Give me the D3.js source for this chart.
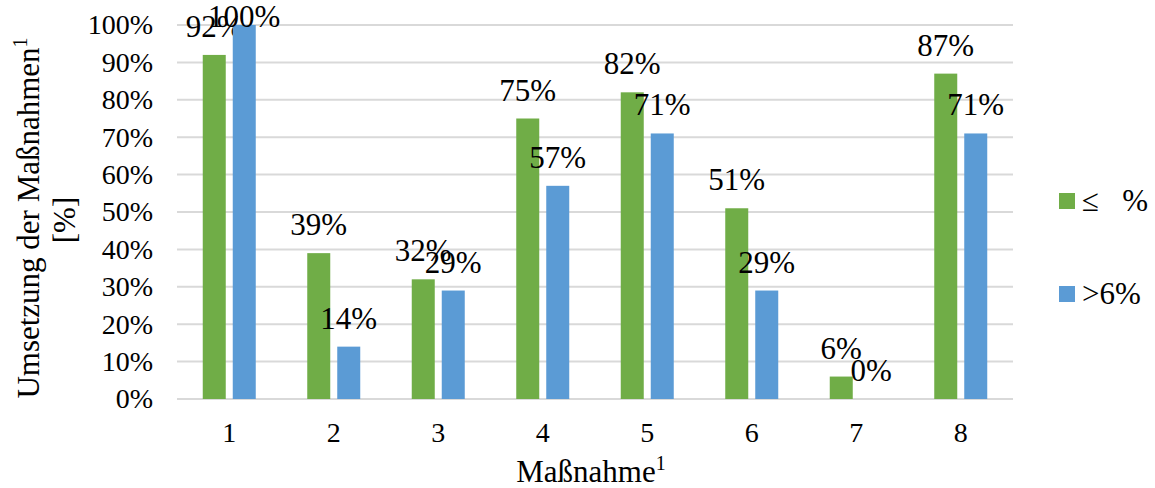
<!DOCTYPE html>
<html>
<head>
<meta charset="utf-8">
<script src="https://cdn.jsdelivr.net/npm/d3@7"></script>
<style>
  html, body { margin: 0; padding: 0; background: #fff; }
  svg text { font-family: "Liberation Serif", "Times New Roman", serif; fill: #000; }
</style>
</head>
<body>
<svg id="chart" width="1155" height="488"></svg>
<script>
// Umsetzung der Maßnahmen je Gruppe
const categories = ["1", "2", "3", "4", "5", "6", "7", "8"];
const seriesNames = ["\u2264   %", ">6%"];
const lowValues = [92, 39, 32, 75, 82, 51, 6, 87];
const highValues = [100, 14, 29, 57, 71, 29, 0, 71];
const yTicks = [0, 10, 20, 30, 40, 50, 60, 70, 80, 90, 100];
const colors = ["#70ad47", "#5b9bd5"];

const series = [lowValues, highValues];
const serif = "'Liberation Serif', 'Times New Roman', serif";

const svg = d3.select("#chart");
const plot = { left: 177, right: 1013, top: 25, bottom: 399 };

const x = d3.scaleBand().domain(categories).range([plot.left, plot.right]).padding(0);
const y = d3.scaleLinear().domain([0, 100]).range([plot.bottom, plot.top]);

const barW = 23, barGap = 7;

// gridlines
svg.append("g")
  .selectAll("line")
  .data(yTicks)
  .join("line")
  .attr("x1", plot.left).attr("x2", plot.right)
  .attr("y1", d => y(d)).attr("y2", d => y(d))
  .attr("stroke", "#d9d9d9").attr("stroke-width", 2);

// y axis labels
const yAxis = d3.axisLeft(y).tickValues(yTicks).tickFormat(d => d + "%").tickSize(0).tickPadding(24);
const yg = svg.append("g").attr("transform", `translate(${plot.left},0)`).call(yAxis)
  .attr("font-family", serif).attr("font-size", null);
yg.select(".domain").remove();
yg.selectAll("text").style("font-size", "28px").style("font-family", serif);

// x axis labels
const xAxis = d3.axisBottom(x).tickSize(0).tickPadding(23);
const xg = svg.append("g").attr("transform", `translate(0,${plot.bottom})`).call(xAxis)
  .attr("font-family", serif).attr("font-size", null);
xg.select(".domain").remove();
xg.selectAll("text").style("font-size", "28px").style("font-family", serif);

// bars and value labels
series.forEach((vals, si) => {
  const offset = si === 0 ? -(barGap / 2 + barW) : barGap / 2;
  const g = svg.append("g");
  g.selectAll("rect")
    .data(vals)
    .join("rect")
    .attr("x", (d, i) => x(categories[i]) + x.bandwidth() / 2 + offset)
    .attr("y", d => y(d))
    .attr("width", barW)
    .attr("height", d => y(0) - y(d))
    .attr("fill", colors[si]);
  g.selectAll("text")
    .data(vals)
    .join("text")
    .attr("x", (d, i) => x(categories[i]) + x.bandwidth() / 2 + offset + barW / 2)
    .attr("y", d => Math.max(y(d) - 18, 27))
    .attr("text-anchor", "middle")
    .style("font-size", "31px")
    .style("font-family", serif)
    .text(d => d + "%");
});

// axis titles
svg.append("text")
  .attr("transform", "translate(39,218) rotate(-90)")
  .attr("text-anchor", "middle")
  .style("font-size", "31px")
  .style("font-family", serif)
  .html('Umsetzung der Maßnahmen<tspan dy="-12" font-size="20px">1</tspan>');
svg.append("text")
  .attr("transform", "translate(75,220) rotate(-90)")
  .attr("text-anchor", "middle")
  .style("font-size", "31px")
  .style("font-family", serif)
  .text("[%]");

svg.append("text")
  .attr("x", 591).attr("y", 482)
  .attr("text-anchor", "middle")
  .style("font-size", "31px")
  .style("font-family", serif)
  .html('Maßnahme<tspan dy="-12" font-size="20px">1</tspan>');

// legend
const legend = svg.append("g");
const legendY = [201, 294];
seriesNames.forEach((name, i) => {
  legend.append("rect")
    .attr("x", 1059).attr("y", legendY[i] - 8)
    .attr("width", 16).attr("height", 16)
    .attr("fill", colors[i]);
  legend.append("text")
    .attr("x", 1082).attr("y", legendY[i] + 10)
    .style("font-size", "31px")
    .style("font-family", serif)
    .style("white-space", "pre")
    .text(name);
});
</script>
</body>
</html>
